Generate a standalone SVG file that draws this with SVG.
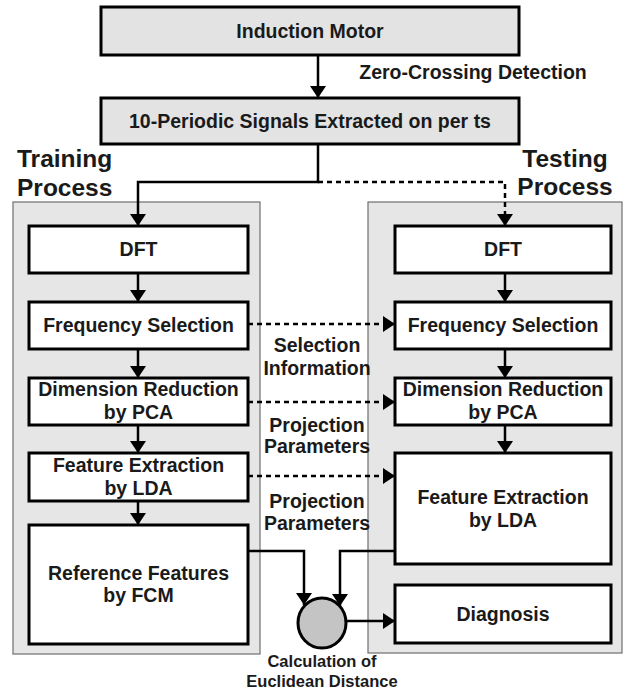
<svg xmlns="http://www.w3.org/2000/svg" width="625" height="691" viewBox="0 0 625 691">
<style>
  text { font-family: "Liberation Sans", Arial, sans-serif; font-weight: bold; fill: #1a1a1a; }
  .t { font-size: 19.5px; text-anchor: middle; }
  .lbl { font-size: 19.5px; text-anchor: middle; }
  .big { font-size: 24.5px; }
  .cap { font-size: 16.5px; text-anchor: middle; }
  .box { fill: #ffffff; stroke: #000; stroke-width: 3; }
  .gbox { fill: #e3e3e3; stroke: #000; stroke-width: 3; }
  .cont { fill: #e6e6e6; stroke: #6e6e6e; stroke-width: 1.2; }
  .ln { fill: none; stroke: #000; stroke-width: 2.5; }
  .dash { fill: none; stroke: #000; stroke-width: 2.5; stroke-dasharray: 5 4; }
</style>
<defs>
  <marker id="ah" viewBox="0 0 12 16" refX="12" refY="8" markerWidth="12" markerHeight="16" markerUnits="userSpaceOnUse" orient="auto">
    <path d="M0,0 L12,8 L0,16 Z" fill="#000"/>
  </marker>
</defs>

<g id="training-container"><rect class="cont" x="13" y="202" width="247" height="452"/></g>
<g id="testing-container"><rect class="cont" x="368" y="202" width="254" height="451"/></g>

<text class="big" x="17" y="167">Training</text>
<text class="big" x="17" y="196">Process</text>
<text class="big" x="565" y="167" text-anchor="middle">Testing</text>
<text class="big" x="565" y="195" text-anchor="middle">Process</text>

<g id="connectors">
  <line class="ln" x1="318" y1="55" x2="318" y2="98" marker-end="url(#ah)"/>
  <polyline class="ln" points="318,144 318,182 138,182 138,226" marker-end="url(#ah)"/>
  <polyline class="dash" points="318,182 505,182 505,226" marker-end="url(#ah)"/>
  <line class="ln" x1="138" y1="273" x2="138" y2="302" marker-end="url(#ah)"/>
  <line class="ln" x1="138" y1="349" x2="138" y2="378" marker-end="url(#ah)"/>
  <line class="ln" x1="138" y1="425" x2="138" y2="453" marker-end="url(#ah)"/>
  <line class="ln" x1="138" y1="501" x2="138" y2="525" marker-end="url(#ah)"/>
  <line class="ln" x1="505" y1="273" x2="505" y2="302" marker-end="url(#ah)"/>
  <line class="ln" x1="505" y1="349" x2="505" y2="378" marker-end="url(#ah)"/>
  <line class="ln" x1="505" y1="425" x2="505" y2="453" marker-end="url(#ah)"/>
  <line class="dash" x1="248" y1="324" x2="395" y2="324" marker-end="url(#ah)"/>
  <line class="dash" x1="248" y1="402" x2="395" y2="402" marker-end="url(#ah)"/>
  <line class="dash" x1="248" y1="476" x2="395" y2="476" marker-end="url(#ah)"/>
  <polyline class="ln" points="248,551 304,551 304,605" marker-end="url(#ah)"/>
  <polyline class="ln" points="395,551 340,551 340,606" marker-end="url(#ah)"/>
  <line class="ln" x1="346" y1="621" x2="395" y2="621" marker-end="url(#ah)"/>
</g>

<text class="lbl" x="473" y="79">Zero-Crossing Detection</text>
<text class="lbl" x="317" y="352">Selection</text>
<text class="lbl" x="317" y="375">Information</text>
<text class="lbl" x="317" y="432">Projection</text>
<text class="lbl" x="317" y="453">Parameters</text>
<text class="lbl" x="317" y="508">Projection</text>
<text class="lbl" x="317" y="530">Parameters</text>

<g id="induction-motor"><rect class="gbox" x="101" y="7" width="418" height="48"/><text class="t" x="310" y="38">Induction Motor</text></g>
<g id="periodic-signals"><rect class="gbox" x="101" y="98" width="418" height="46"/><text class="t" x="310" y="128">10-Periodic Signals Extracted on per ts</text></g>

<g id="train-dft"><rect class="box" x="29" y="226" width="219" height="47"/><text class="t" x="138.5" y="256">DFT</text></g>
<g id="train-freq"><rect class="box" x="29" y="302" width="219" height="47"/><text class="t" x="138.5" y="332">Frequency Selection</text></g>
<g id="train-pca"><rect class="box" x="29" y="378" width="219" height="47"/><text class="t" x="138.5" y="396">Dimension Reduction</text><text class="t" x="138.5" y="419">by PCA</text></g>
<g id="train-lda"><rect class="box" x="29" y="453" width="219" height="48"/><text class="t" x="138.5" y="472">Feature Extraction</text><text class="t" x="138.5" y="495">by LDA</text></g>
<g id="train-fcm"><rect class="box" x="29" y="525" width="219" height="119"/><text class="t" x="138.5" y="580">Reference Features</text><text class="t" x="138.5" y="602">by FCM</text></g>

<g id="test-dft"><rect class="box" x="395" y="226" width="216" height="47"/><text class="t" x="503" y="256">DFT</text></g>
<g id="test-freq"><rect class="box" x="395" y="302" width="216" height="47"/><text class="t" x="503" y="332">Frequency Selection</text></g>
<g id="test-pca"><rect class="box" x="395" y="378" width="216" height="47"/><text class="t" x="503" y="396">Dimension Reduction</text><text class="t" x="503" y="419">by PCA</text></g>
<g id="test-lda"><rect class="box" x="395" y="453" width="216" height="111"/><text class="t" x="503" y="504">Feature Extraction</text><text class="t" x="503" y="527">by LDA</text></g>
<g id="diagnosis"><rect class="box" x="395" y="585" width="216" height="58"/><text class="t" x="503" y="621">Diagnosis</text></g>

<g id="euclidean"><ellipse cx="322" cy="623" rx="24" ry="25" fill="#c4c4c4" stroke="#000" stroke-width="3"/>
<text class="cap" x="322" y="667">Calculation of</text>
<text class="cap" x="322" y="687">Euclidean Distance</text></g>
</svg>
